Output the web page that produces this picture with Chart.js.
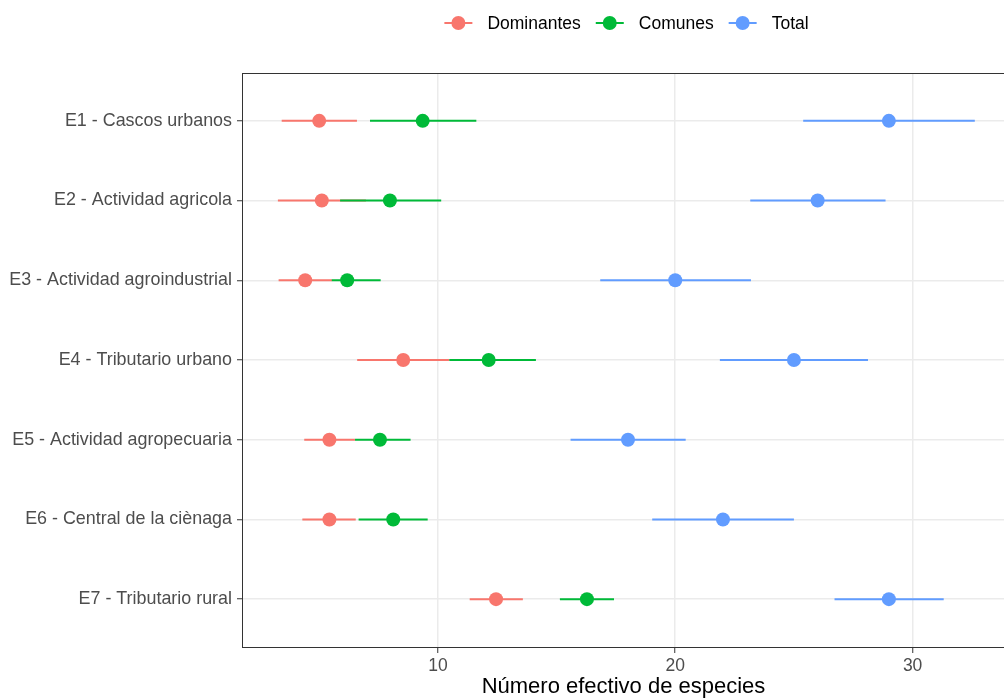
<!DOCTYPE html>
<html>
<head>
<meta charset="utf-8">
<script src="https://cdn.jsdelivr.net/npm/chart.js@4.4.0/dist/chart.umd.min.js"></script>
<style>
  html, body { margin: 0; padding: 0; background: #fff; overflow: hidden; }
  #caja { width: 1004px; height: 700px; }
</style>
</head>
<body>
<div id="caja"><canvas id="grafico" width="1004" height="700"></canvas></div>
<script>
// categorias (eje y) y series
const categorias = ['E1 - Cascos urbanos', 'E2 - Actividad agricola', 'E3 - Actividad agroindustrial',
  'E4 - Tributario urbano', 'E5 - Actividad agropecuaria', 'E6 - Central de la ciènaga', 'E7 - Tributario rural'];
const series = ['Dominantes', 'Comunes', 'Total'];
const colores = ['#F8766D', '#00BA38', '#619CFF'];

// valores medios y extremos de cada intervalo
const domMedia = [5.00, 5.11, 4.41, 8.54, 5.43, 5.43, 12.45];
const domMin   = [3.42, 3.26, 3.29, 6.60, 4.37, 4.29, 11.34];
const domMax   = [6.59, 6.97, 5.54, 10.48, 6.51, 6.54, 13.58];
const comMedia = [9.36, 7.98, 6.18, 12.14, 7.56, 8.12, 16.28];
const comMin   = [7.14, 5.88, 5.53, 10.48, 6.51, 6.66, 15.14];
const comMax   = [11.62, 10.14, 7.59, 14.13, 8.85, 9.57, 17.42];
const totMedia = [29.00, 26.00, 20.00, 25.00, 18.01, 22.01, 29.00];
const totMin   = [25.39, 23.16, 16.84, 21.88, 15.59, 19.03, 26.71];
const totMax   = [32.62, 28.86, 23.19, 28.12, 20.44, 25.00, 31.31];
const ticksX = [10, 20, 30];

const medias = [domMedia, comMedia, totMedia];
const minimos = [domMin, comMin, totMin];
const maximos = [domMax, comMax, totMax];

const fuente = "'Liberation Sans', Arial, sans-serif";
// el panel original sigue unos pixeles fuera de la imagen por la derecha
const panelOculto = 6;

var myData = [];
for (let s = 0; s < series.length; s++) {
  let puntos = [];
  for (let i = 0; i < categorias.length; i++) {
    puntos.push({ x: medias[s][i], y: i + 1 });
  }
  myData.push({
    label: series[s],
    data: puntos,
    backgroundColor: colores[s],
    borderColor: colores[s],
    pointRadius: 7,
    pointBorderWidth: 0,
    pointHoverRadius: 7,
    showLine: false
  });
}

// lineas de intervalo, dibujadas con las escalas del grafico
const barrasPlugin = {
  id: 'barras',
  beforeDatasetsDraw(chart) {
    const ctx = chart.ctx;
    const sx = chart.scales.x, sy = chart.scales.y;
    ctx.save();
    ctx.lineWidth = 2;
    for (let s = 0; s < series.length; s++) {
      ctx.strokeStyle = colores[s];
      for (let i = 0; i < categorias.length; i++) {
        const y = sy.getPixelForValue(i + 1);
        ctx.beginPath();
        ctx.moveTo(sx.getPixelForValue(minimos[s][i]), y);
        ctx.lineTo(sx.getPixelForValue(maximos[s][i]), y);
        ctx.stroke();
      }
    }
    ctx.restore();
  }
};

// borde del panel y leyenda estilo ggplot
const panelPlugin = {
  id: 'panel',
  afterDraw(chart) {
    const ctx = chart.ctx;
    const a = chart.chartArea;
    const derecha = a.right + panelOculto;
    ctx.save();
    ctx.strokeStyle = '#333333';
    ctx.lineWidth = 1;
    ctx.strokeRect(a.left - 0.5, a.top + 0.5, derecha - a.left, a.bottom - a.top);

    // leyenda
    ctx.font = '17.5px ' + fuente;
    const llave = 28, gapTexto = 15, gapItem = 15;
    let anchos = series.map(t => ctx.measureText(t).width);
    let total = 0;
    anchos.forEach((w, k) => { total += llave + gapTexto + w + (k < anchos.length - 1 ? gapItem : 0); });
    let x = (a.left + derecha) / 2 - total / 2;
    const y = 23;
    for (let k = 0; k < series.length; k++) {
      ctx.strokeStyle = colores[k];
      ctx.fillStyle = colores[k];
      ctx.lineWidth = 2;
      ctx.beginPath();
      ctx.moveTo(x, y);
      ctx.lineTo(x + llave, y);
      ctx.stroke();
      ctx.beginPath();
      ctx.arc(x + llave / 2, y, 7, 0, Math.PI * 2);
      ctx.fill();
      ctx.fillStyle = '#000000';
      ctx.textAlign = 'left';
      ctx.textBaseline = 'middle';
      ctx.fillText(series[k], x + llave + gapTexto, y + 1);
      x += llave + gapTexto + anchos[k] + gapItem;
    }
    ctx.restore();
  }
};

var ctx = document.getElementById('grafico');
var grafico = new Chart(ctx, {
  type: 'scatter',
  data: { datasets: myData },
  plugins: [barrasPlugin, panelPlugin],
  options: {
    responsive: false,
    animation: false,
    layout: { autoPadding: false, padding: { top: 73, left: 0, right: 0, bottom: 0 } },
    plugins: {
      legend: { display: false },
      tooltip: { enabled: false }
    },
    scales: {
      x: {
        type: 'linear',
        min: 1.79,
        max: 33.85,
        afterBuildTicks: s => { s.ticks = ticksX.map(v => ({ value: v })); },
        afterFit: s => { s.height = 53; },
        ticks: { color: '#4D4D4D', font: { family: fuente, size: 17.5 }, padding: 3, maxRotation: 0 },
        grid: { color: '#EBEBEB', lineWidth: 1.5, drawTicks: true, tickLength: 6, tickColor: '#333333', tickWidth: 1 },
        border: { display: false },
        title: {
          display: true,
          text: 'Número efectivo de especies',
          color: '#000000',
          font: { family: fuente, size: 22 },
          padding: { top: 0, bottom: 0 }
        }
      },
      y: {
        type: 'linear',
        reverse: true,
        min: 0.4,
        max: 7.6,
        afterBuildTicks: s => { s.ticks = categorias.map((c, i) => ({ value: i + 1 })); },
        afterFit: s => { s.width = 243; },
        ticks: {
          color: '#4D4D4D',
          font: { family: fuente, size: 17.9 },
          padding: 5,
          autoSkip: false,
          callback: v => categorias[v - 1]
        },
        grid: { color: '#EBEBEB', lineWidth: 1.5, drawTicks: true, tickLength: 6, tickColor: '#333333', tickWidth: 1 },
        border: { display: false }
      }
    }
  }
});
</script>
</body>
</html>
